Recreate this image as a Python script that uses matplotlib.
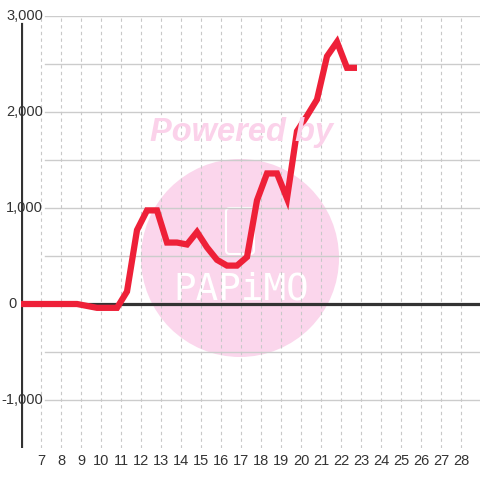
import matplotlib
matplotlib.use('Agg')
import matplotlib.pyplot as plt
from matplotlib.patches import Circle, FancyBboxPatch

plt.rcParams['font.family'] = ['Liberation Sans', 'DejaVu Sans']

# data: one point every half step along the x axis
x_start = 5.8
x_step = 0.5
values = [0, 0, 0, 0, 0, 0, 0, -20, -40, -40, -40, 130, 770, 975, 975,
          640, 640, 620, 750, 590, 460, 400, 400, 490, 1080, 1360, 1360,
          1100, 1800, 1960, 2130, 2580, 2730, 2460, 2460]
x_vals = [x_start + x_step * i for i in range(len(values))]

x_ticks = list(range(7, 29))
y_ticks = [-1000, 0, 1000, 2000, 3000]
y_grid = [-1000, -500, 500, 1000, 1500, 2000, 2500, 3000]

W = 480
fig = plt.figure(figsize=(4.8, 4.8), dpi=100)
ax = fig.add_axes([21 / W, 32 / W, 459 / W, 432 / W])
ax.set_xlim(6, 28.95)
ax.set_ylim(-1500, 3000)
for s in ax.spines.values():
    s.set_visible(False)

# watermark
ax.add_patch(Circle((240 / W, 1 - 258 / W), 99 / W, transform=fig.transFigure,
                    facecolor='#fbd6ec', edgecolor='none', zorder=0, clip_on=False))
ax.add_patch(FancyBboxPatch((226 / W, 1 - 254 / W), 28 / W, 46 / W,
                            boxstyle='round,pad=0,rounding_size=0.008',
                            transform=fig.transFigure, facecolor='none',
                            edgecolor='white', lw=1.5, zorder=0.5, clip_on=False))
fig.text(242 / W, 1 - 133 / W, 'Powered by', color='#fbd2ea', fontsize=23.5,
         fontweight='bold', fontstyle='italic', ha='center', va='center', zorder=0)
ax.text(241 / W, 1 - 290 / W, 'PAPiMO', color='white', fontsize=27,
        family='DejaVu Sans Mono', ha='center', va='center',
        transform=fig.transFigure, zorder=0.5)

# grid
for y in y_grid:
    ax.axhline(y, xmin=(45 - 21) / 459, color='#cccccc', lw=1, zorder=1)
for x in x_ticks:
    ax.axvline(x, color='#c8c8c8', lw=0.8, ls=(0, (3, 3)), zorder=1)

# axes lines
ax.axhline(0, color='#333333', lw=2.3, zorder=2)
ax.axvline(6, ymin=0, ymax=(448 - 24) / 432, color='#333333', lw=2.3, zorder=2)

ax.plot(x_vals, values, color='#ee2038', lw=4.5, solid_joinstyle='miter',
        solid_capstyle='butt', zorder=3)

ax.set_xticks(x_ticks)
ax.tick_params(axis='x', length=0, pad=4, labelsize=10.5, labelcolor='#333333')
ax.set_yticks([])
for y in y_ticks:
    if y == 0:
        xpos, ha = -13 / 459, 'left'
    else:
        xpos, ha = 22 / 459, 'right'
    ax.text(xpos, y, f'{y:,}', transform=ax.get_yaxis_transform(),
            ha=ha, va='center', fontsize=10.5, color='#333333', zorder=4)

fig.savefig('out.png', dpi=100)
